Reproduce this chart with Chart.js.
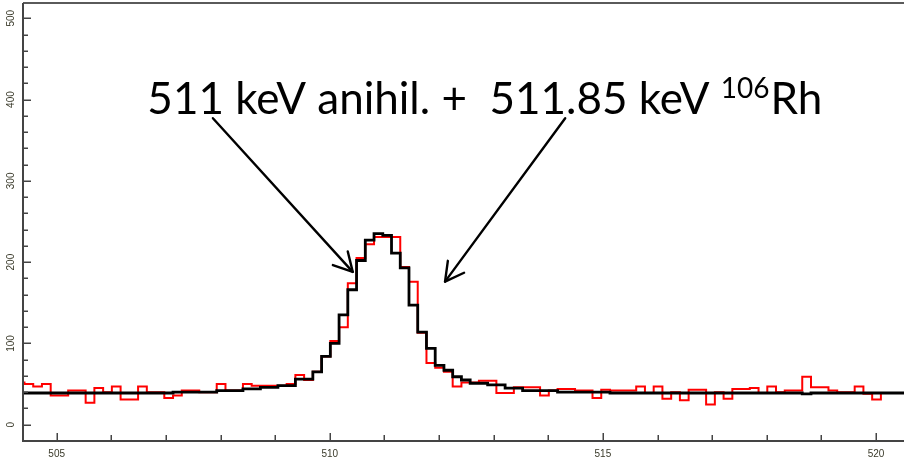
<!DOCTYPE html>
<html><head><meta charset="utf-8">
<script src="https://cdn.jsdelivr.net/npm/chart.js@4.4.0/dist/chart.umd.min.js"></script>
<style>html,body{margin:0;padding:0;background:#fff;}#wrap{width:904px;height:461px;}</style>
</head><body><div id="wrap"><canvas id="c" width="904" height="461"></canvas></div>
<script>
// Bin centres (keV)
const energies = [504.33,504.49,504.65,504.81,504.97,505.13,505.29,505.45,505.61,505.77,505.93,506.09,506.25,506.41,506.57,506.73,506.89,507.05,507.21,507.37,507.53,507.69,507.85,508.01,508.17,508.33,508.49,508.65,508.81,508.97,509.13,509.29,509.45,509.61,509.77,509.93,510.09,510.25,510.41,510.57,510.73,510.89,511.05,511.21,511.37,511.53,511.69,511.85,512.01,512.17,512.33,512.49,512.65,512.81,512.97,513.13,513.29,513.45,513.61,513.77,513.93,514.09,514.25,514.41,514.57,514.73,514.89,515.05,515.21,515.37,515.53,515.69,515.85,516.01,516.17,516.33,516.49,516.65,516.81,516.97,517.13,517.29,517.45,517.61,517.77,517.93,518.09,518.25,518.41,518.57,518.73,518.89,519.05,519.21,519.37,519.53,519.69,519.85,520.01,520.17,520.33,520.49,520.65];
// Measured spectrum (red)
const measured = [52,50,47,50,36,36,42,42,27,45,40,47,31,31,47,40,40,33,36,42,42,40,40,50,42,42,50,48,48,48,48,50,61,55,65,84,103,120,174,205,222,231,231,231,194,176,113,76,70,65,47,52,52,54,54,39,39,46,46,46,36,42,44,44,42,42,33,43,42,42,42,47,39,47,32,40,30,43,43,25,40,32,44,44,45,39,47,40,42,42,59,46,46,42,40,40,47,38,31,39,39,39,39];
// Fitted spectrum (black)
const fitted = [39,39,39,39,39,39,39,39,39,39,39,39,39,39,39,39,39,39,40,40,40,40,40,42,42,42,44,44,46,46,48,48,56,56,65,84,100,135,166,202,227,235,233,211,193,147,114,94,73,67,59,55,51,51,49,49,45,45,42,42,42,42,40,40,40,40,40,40,39,39,39,39,39,39,39,39,39,39,39,39,39,39,39,39,39,39,39,39,39,39,38,39,39,39,39,39,39,39,39,39,39,39,39];
// Axis ticks
const xMajorTicks = [505,510,515,520];
const xMinorTicks = [505,506,507,508,509,510,511,512,513,514,515,516,517,518,519,520];
const yMajorTicks = [0,100,200,300,400,500];
const yMinorTicks = [0,20,40,60,80,100,120,140,160,180,200,220,240,260,280,300,320,340,360,380,400,420,440,460,480,500];
// Annotation
const labelMain = "511 keV anihil. +  511.85 keV ";
const labelSup = "106";
const labelTail = "Rh";
const labelAnchor = [506.66, 382];
const arrows = [
  {from:[507.86,377], to:[510.42,188]},
  {from:[514.31,377], to:[512.11,176]}
];

const overlay = {
  id:'overlay',
  afterDraw(chart){
    const {ctx, chartArea:a, scales:{x,y}} = chart;
    ctx.save();
    ctx.lineCap = 'butt';
    // frame
    ctx.strokeStyle = '#5a5a5a'; ctx.lineWidth = 2;
    ctx.beginPath(); ctx.moveTo(a.left, a.top); ctx.lineTo(a.right, a.top); ctx.stroke();
    ctx.strokeStyle = '#444';
    ctx.beginPath(); ctx.moveTo(a.left, a.top); ctx.lineTo(a.left, a.bottom); ctx.lineTo(a.right, a.bottom); ctx.stroke();
    // y ticks
    ctx.lineWidth = 1.5; ctx.strokeStyle = '#444';
    yMinorTicks.forEach(v=>{
      const py = Math.round(y.getPixelForValue(v))+0.25;
      const len = yMajorTicks.includes(v) ? 8 : 5;
      ctx.beginPath(); ctx.moveTo(a.left, py); ctx.lineTo(a.left+len, py); ctx.stroke();
    });
    ctx.fillStyle = '#3a3a2a';
    ctx.font = '10px "Liberation Sans", Arial, sans-serif';
    ctx.textAlign = 'center'; ctx.textBaseline = 'middle';
    yMajorTicks.forEach(v=>{
      const py = y.getPixelForValue(v);
      ctx.save(); ctx.translate(11, py); ctx.rotate(-Math.PI/2);
      ctx.fillText(String(v), 0, 0); ctx.restore();
    });
    // x ticks
    xMinorTicks.forEach(v=>{
      const px = Math.round(x.getPixelForValue(v))+0.25;
      const len = xMajorTicks.includes(v) ? 8 : 6;
      ctx.beginPath(); ctx.moveTo(px, a.bottom); ctx.lineTo(px, a.bottom-len); ctx.stroke();
    });
    ctx.textBaseline = 'middle';
    xMajorTicks.forEach(v=>{
      ctx.fillText(String(v), x.getPixelForValue(v), 454);
    });
    // arrows
    ctx.strokeStyle = '#000'; ctx.lineWidth = 2.4; ctx.lineCap = 'round'; ctx.lineJoin = 'round';
    arrows.forEach(ar=>{
      const x0 = x.getPixelForValue(ar.from[0]), y0 = y.getPixelForValue(ar.from[1]);
      const x1 = x.getPixelForValue(ar.to[0]), y1 = y.getPixelForValue(ar.to[1]);
      ctx.beginPath(); ctx.moveTo(x0,y0); ctx.lineTo(x1,y1); ctx.stroke();
      const ang = Math.atan2(y1-y0, x1-x0), hl = 21, ha = 0.5;
      ctx.beginPath();
      ctx.moveTo(x1 - hl*Math.cos(ang-ha), y1 - hl*Math.sin(ang-ha));
      ctx.lineTo(x1, y1);
      ctx.lineTo(x1 - hl*Math.cos(ang+ha), y1 - hl*Math.sin(ang+ha));
      ctx.stroke();
    });
    // annotation text
    const tx = x.getPixelForValue(labelAnchor[0]), ty = y.getPixelForValue(labelAnchor[1]);
    ctx.fillStyle = '#000'; ctx.textAlign = 'left'; ctx.textBaseline = 'alphabetic';
    ctx.font = '44px Lato, "Open Sans", sans-serif';
    ctx.fillText(labelMain, tx, ty);
    let w = ctx.measureText(labelMain).width;
    ctx.font = '28px Lato, "Open Sans", sans-serif';
    ctx.fillText(labelSup, tx+w, ty-16);
    w += ctx.measureText(labelSup).width + 1;
    ctx.font = '44px Lato, "Open Sans", sans-serif';
    ctx.fillText(labelTail, tx+w, ty);
    ctx.restore();
  }
};

new Chart(document.getElementById('c'), {
  type:'line',
  data:{
    datasets:[
      {label:'fit', data: energies.map((e,i)=>({x:e, y:fitted[i]})), borderColor:'#000', borderWidth:2.8, stepped:'middle', pointRadius:0, fill:false},
      {label:'measured', data: energies.map((e,i)=>({x:e, y:measured[i]})), borderColor:'#ff0000', borderWidth:2, stepped:'middle', pointRadius:0, fill:false}
    ]
  },
  options:{
    responsive:false, devicePixelRatio:1, animation:false,
    layout:{padding:{top:3,left:0,right:0,bottom:0}},
    plugins:{legend:{display:false}, tooltip:{enabled:false}},
    scales:{
      x:{type:'linear', min:504.383, max:520.513, grid:{display:false}, border:{display:false}, ticks:{display:false}, afterFit(s){s.height=20;}},
      y:{type:'linear', min:-20.05, max:518.8, grid:{display:false}, border:{display:false}, ticks:{display:false}, afterFit(s){s.width=23;}}
    }
  },
  plugins:[overlay]
});
</script>
</body></html>
